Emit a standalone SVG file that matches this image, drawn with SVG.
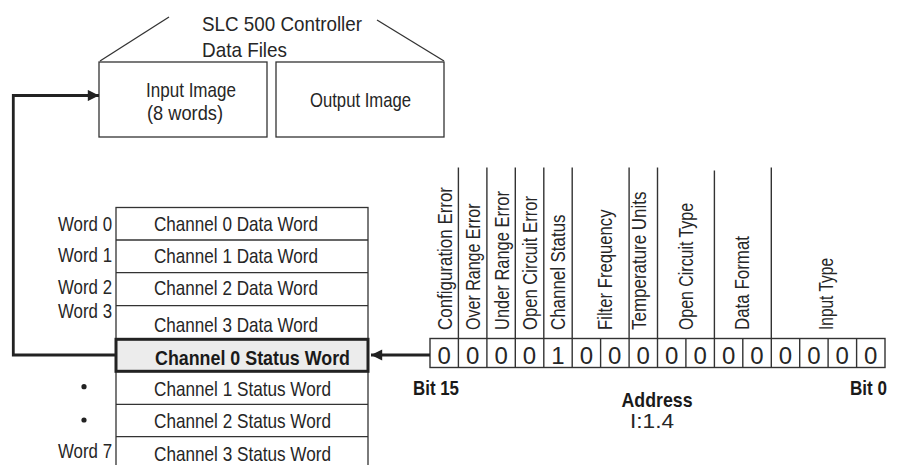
<svg xmlns="http://www.w3.org/2000/svg" width="900" height="465" viewBox="0 0 900 465">
<defs>
<style>
text{font-family:"Liberation Sans",Arial,sans-serif;fill:#262626;font-size:21px}
.b{font-weight:bold;fill:#1a1a1a}
.box{fill:#fff;stroke:#333;stroke-width:1.3}
.ln{stroke:#333;stroke-width:1.3;fill:none}
.sep{stroke:#333;stroke-width:1.4;fill:none}
.conn{stroke:#222;stroke-width:2.8;fill:none}
.dig{font-size:24px;text-anchor:middle}
.vl{font-size:21px}
</style>
<marker id="ah" viewBox="0 0 10 10" refX="10" refY="5" markerWidth="6" markerHeight="4" markerUnits="strokeWidth" orient="auto">
<path d="M0,0 L10,5 L0,10 Z" fill="#222"/>
</marker>
</defs>
<rect width="900" height="465" fill="#fff"/>

<g id="controller">
<line class="ln" x1="100" y1="61" x2="169" y2="17"/>
<line class="ln" x1="377" y1="20" x2="444" y2="61"/>
<text x="202" y="31" textLength="160" lengthAdjust="spacingAndGlyphs">SLC 500 Controller</text>
<text x="202" y="57" textLength="85" lengthAdjust="spacingAndGlyphs">Data Files</text>
</g>

<g id="input-image">
<rect class="box" x="99" y="62" width="168" height="75"/>
<text x="146" y="97" textLength="90" lengthAdjust="spacingAndGlyphs">Input Image</text>
<text x="147" y="120" textLength="76" lengthAdjust="spacingAndGlyphs">(8 words)</text>
</g>

<g id="output-image">
<rect class="box" x="276" y="62" width="168" height="75"/>
<text x="310" y="107" textLength="101" lengthAdjust="spacingAndGlyphs">Output Image</text>
</g>

<g id="input-table">
<rect class="box" x="116" y="207.5" width="252" height="280"/>
<line class="ln" x1="116" y1="240" x2="368" y2="240"/>
<line class="ln" x1="116" y1="272.7" x2="368" y2="272.7"/>
<line class="ln" x1="116" y1="305.7" x2="368" y2="305.7"/>
<line class="ln" x1="116" y1="404.3" x2="368" y2="404.3"/>
<line class="ln" x1="116" y1="436.7" x2="368" y2="436.7"/>
<text x="154" y="230.7" textLength="164" lengthAdjust="spacingAndGlyphs">Channel 0 Data Word</text>
<text x="154" y="262.7" textLength="164" lengthAdjust="spacingAndGlyphs">Channel 1 Data Word</text>
<text x="154" y="295" textLength="164" lengthAdjust="spacingAndGlyphs">Channel 2 Data Word</text>
<text x="154" y="332.3" textLength="164" lengthAdjust="spacingAndGlyphs">Channel 3 Data Word</text>
<text x="154" y="395.7" textLength="177" lengthAdjust="spacingAndGlyphs">Channel 1 Status Word</text>
<text x="154" y="428.3" textLength="177" lengthAdjust="spacingAndGlyphs">Channel 2 Status Word</text>
<text x="154" y="460.7" textLength="177" lengthAdjust="spacingAndGlyphs">Channel 3 Status Word</text>
</g>

<g id="status-word">
<rect x="116" y="339.3" width="252" height="32" fill="#ececec" stroke="#222" stroke-width="3"/>
<text class="b" x="155" y="365" textLength="195" lengthAdjust="spacingAndGlyphs">Channel 0 Status Word</text>
</g>

<g id="word-labels">
<text x="112" y="230.7" text-anchor="end" textLength="54" lengthAdjust="spacingAndGlyphs">Word 0</text>
<text x="112" y="261.7" text-anchor="end" textLength="54" lengthAdjust="spacingAndGlyphs">Word 1</text>
<text x="112" y="294" text-anchor="end" textLength="54" lengthAdjust="spacingAndGlyphs">Word 2</text>
<text x="112" y="318.3" text-anchor="end" textLength="54" lengthAdjust="spacingAndGlyphs">Word 3</text>
<circle cx="84" cy="386.7" r="2.6" fill="#222"/>
<circle cx="84" cy="420" r="2.6" fill="#222"/>
<text x="112" y="458.3" text-anchor="end" textLength="54" lengthAdjust="spacingAndGlyphs">Word 7</text>
</g>

<g id="bit-fields">
<g class="sep">
<line x1="458.4" y1="167.5" x2="458.4" y2="338.5"/>
<line x1="486.9" y1="167.5" x2="486.9" y2="338.5"/>
<line x1="515.3" y1="167.5" x2="515.3" y2="338.5"/>
<line x1="543.8" y1="167.5" x2="543.8" y2="338.5"/>
<line x1="572.2" y1="167.5" x2="572.2" y2="338.5"/>
<line x1="629.1" y1="167.5" x2="629.1" y2="338.5"/>
<line x1="657.5" y1="167.5" x2="657.5" y2="338.5"/>
<line x1="714.4" y1="170.5" x2="714.4" y2="338.5"/>
<line x1="771.3" y1="167.5" x2="771.3" y2="338.5"/>
</g>
<text class="vl" transform="translate(451.5,330) rotate(-90)" textLength="143" lengthAdjust="spacingAndGlyphs">Configuration Error</text>
<text class="vl" transform="translate(480,330) rotate(-90)" textLength="126.5" lengthAdjust="spacingAndGlyphs">Over Range Error</text>
<text class="vl" transform="translate(508.5,330) rotate(-90)" textLength="139" lengthAdjust="spacingAndGlyphs">Under Range Error</text>
<text class="vl" transform="translate(536.5,330) rotate(-90)" textLength="134" lengthAdjust="spacingAndGlyphs">Open Circuit Error</text>
<text class="vl" transform="translate(565,330) rotate(-90)" textLength="115.5" lengthAdjust="spacingAndGlyphs">Channel Status</text>
<text class="vl" transform="translate(611.5,330) rotate(-90)" textLength="120.5" lengthAdjust="spacingAndGlyphs">Filter Frequency</text>
<text class="vl" transform="translate(645.5,330) rotate(-90)" textLength="138.5" lengthAdjust="spacingAndGlyphs">Temperature Units</text>
<text class="vl" transform="translate(692.5,330) rotate(-90)" textLength="127" lengthAdjust="spacingAndGlyphs">Open Circuit Type</text>
<text class="vl" transform="translate(749,330) rotate(-90)" textLength="94" lengthAdjust="spacingAndGlyphs">Data Format</text>
<text class="vl" transform="translate(832.5,330) rotate(-90)" textLength="72" lengthAdjust="spacingAndGlyphs">Input Type</text>
</g>

<g id="status-bits">
<rect x="430" y="338.5" width="455" height="29" fill="#fff" stroke="#333" stroke-width="1.4"/>
<g class="sep">
<line x1="458.4" y1="338.5" x2="458.4" y2="367.5"/>
<line x1="486.9" y1="338.5" x2="486.9" y2="367.5"/>
<line x1="515.3" y1="338.5" x2="515.3" y2="367.5"/>
<line x1="543.8" y1="338.5" x2="543.8" y2="367.5"/>
<line x1="572.2" y1="338.5" x2="572.2" y2="367.5"/>
<line x1="600.6" y1="338.5" x2="600.6" y2="367.5"/>
<line x1="629.1" y1="338.5" x2="629.1" y2="367.5"/>
<line x1="657.5" y1="338.5" x2="657.5" y2="367.5"/>
<line x1="685.9" y1="338.5" x2="685.9" y2="367.5"/>
<line x1="714.4" y1="338.5" x2="714.4" y2="367.5"/>
<line x1="742.8" y1="338.5" x2="742.8" y2="367.5"/>
<line x1="771.3" y1="338.5" x2="771.3" y2="367.5"/>
<line x1="799.7" y1="338.5" x2="799.7" y2="367.5"/>
<line x1="828.1" y1="338.5" x2="828.1" y2="367.5"/>
<line x1="856.6" y1="338.5" x2="856.6" y2="367.5"/>
</g>
<text class="dig" x="444.2" y="363.5">0</text>
<text class="dig" x="472.7" y="363.5">0</text>
<text class="dig" x="501.1" y="363.5">0</text>
<text class="dig" x="529.5" y="363.5">0</text>
<text class="dig" x="558" y="363.5">1</text>
<text class="dig" x="586.4" y="363.5">0</text>
<text class="dig" x="614.8" y="363.5">0</text>
<text class="dig" x="643.3" y="363.5">0</text>
<text class="dig" x="671.7" y="363.5">0</text>
<text class="dig" x="700.2" y="363.5">0</text>
<text class="dig" x="728.6" y="363.5">0</text>
<text class="dig" x="757" y="363.5">0</text>
<text class="dig" x="785.5" y="363.5">0</text>
<text class="dig" x="813.9" y="363.5">0</text>
<text class="dig" x="842.3" y="363.5">0</text>
<text class="dig" x="870.8" y="363.5">0</text>
<text class="b" x="413" y="395" textLength="46" lengthAdjust="spacingAndGlyphs">Bit 15</text>
<text class="b" x="887" y="395" text-anchor="end" textLength="37" lengthAdjust="spacingAndGlyphs">Bit 0</text>
<text class="b" x="657" y="407" text-anchor="middle" textLength="71" lengthAdjust="spacingAndGlyphs">Address</text>
<text x="652" y="428.3" text-anchor="middle" textLength="44" lengthAdjust="spacingAndGlyphs">I:1.4</text>
</g>

<g id="connectors">
<polyline class="conn" points="116,355 13.3,355 13.3,95.5 99,95.5" marker-end="url(#ah)"/>
<line class="conn" x1="430" y1="355" x2="371" y2="355" marker-end="url(#ah)"/>
</g>
</svg>
